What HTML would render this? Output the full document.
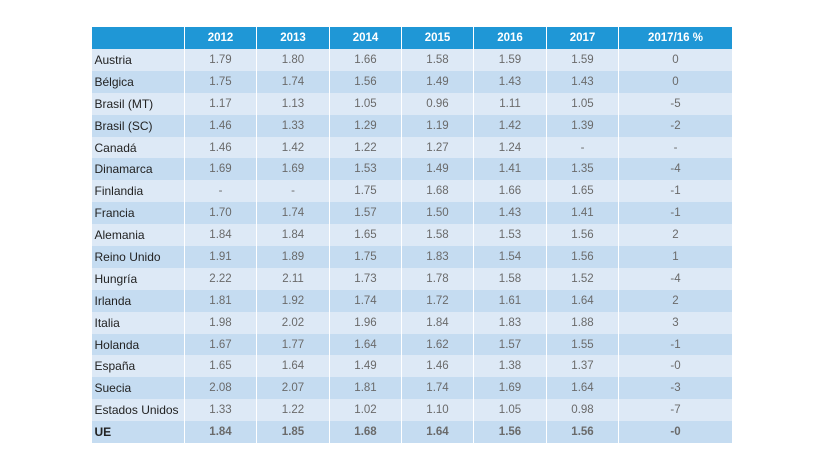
<!DOCTYPE html>
<html><head><meta charset="utf-8"><style>
body{margin:0;width:820px;height:461px;background:#fff;overflow:hidden}
table{position:absolute;left:91px;top:27px;border-collapse:collapse;font-family:"Liberation Sans",sans-serif;table-layout:fixed}
td,th{height:21.9px;padding:0;border-left:1.5px solid #fff;border-right:1.5px solid #fff;text-align:center;font-size:11.5px;color:#6a6a6a;font-weight:normal}
th{background:#1f97d6;color:#fff;font-weight:bold;font-size:11.5px;height:22px}
td.n{text-align:left;padding-left:3px;color:#222;font-size:12px;border-left:none;font-weight:normal}
tr:nth-child(odd) td{background:#dde9f6}
tr:nth-child(even) td{background:#c5dcf1}
tr.ue td{font-weight:bold}
</style></head><body>
<table>
<colgroup><col style="width:93px"><col style="width:72px"><col style="width:73px"><col style="width:72px"><col style="width:72px"><col style="width:73px"><col style="width:72px"><col style="width:114px"></colgroup>
<thead><tr><th></th><th>2012</th><th>2013</th><th>2014</th><th>2015</th><th>2016</th><th>2017</th><th>2017/16 %</th></tr></thead>
<tbody id="tb"></tbody>
</table>
<script>
const countries=["Austria","Bélgica","Brasil (MT)","Brasil (SC)","Canadá","Dinamarca","Finlandia","Francia","Alemania","Reino Unido","Hungría","Irlanda","Italia","Holanda","España","Suecia","Estados Unidos","UE"];
const values=[
["1.79","1.80","1.66","1.58","1.59","1.59","0"],
["1.75","1.74","1.56","1.49","1.43","1.43","0"],
["1.17","1.13","1.05","0.96","1.11","1.05","-5"],
["1.46","1.33","1.29","1.19","1.42","1.39","-2"],
["1.46","1.42","1.22","1.27","1.24","-","-"],
["1.69","1.69","1.53","1.49","1.41","1.35","-4"],
["-","-","1.75","1.68","1.66","1.65","-1"],
["1.70","1.74","1.57","1.50","1.43","1.41","-1"],
["1.84","1.84","1.65","1.58","1.53","1.56","2"],
["1.91","1.89","1.75","1.83","1.54","1.56","1"],
["2.22","2.11","1.73","1.78","1.58","1.52","-4"],
["1.81","1.92","1.74","1.72","1.61","1.64","2"],
["1.98","2.02","1.96","1.84","1.83","1.88","3"],
["1.67","1.77","1.64","1.62","1.57","1.55","-1"],
["1.65","1.64","1.49","1.46","1.38","1.37","-0"],
["2.08","2.07","1.81","1.74","1.69","1.64","-3"],
["1.33","1.22","1.02","1.10","1.05","0.98","-7"],
["1.84","1.85","1.68","1.64","1.56","1.56","-0"]];
const tb=document.getElementById('tb');
countries.forEach((c,i)=>{
 const tr=document.createElement('tr');
 
 
 if(c==="UE")tr.className='ue';
 const td=document.createElement('td');td.className='n';td.textContent=c;
 
 
 tr.appendChild(td);
 values[i].forEach(v=>{const d=document.createElement('td');d.textContent=v;
  
  
  tr.appendChild(d);});
 tb.appendChild(tr);
});
</script>
</body></html>
